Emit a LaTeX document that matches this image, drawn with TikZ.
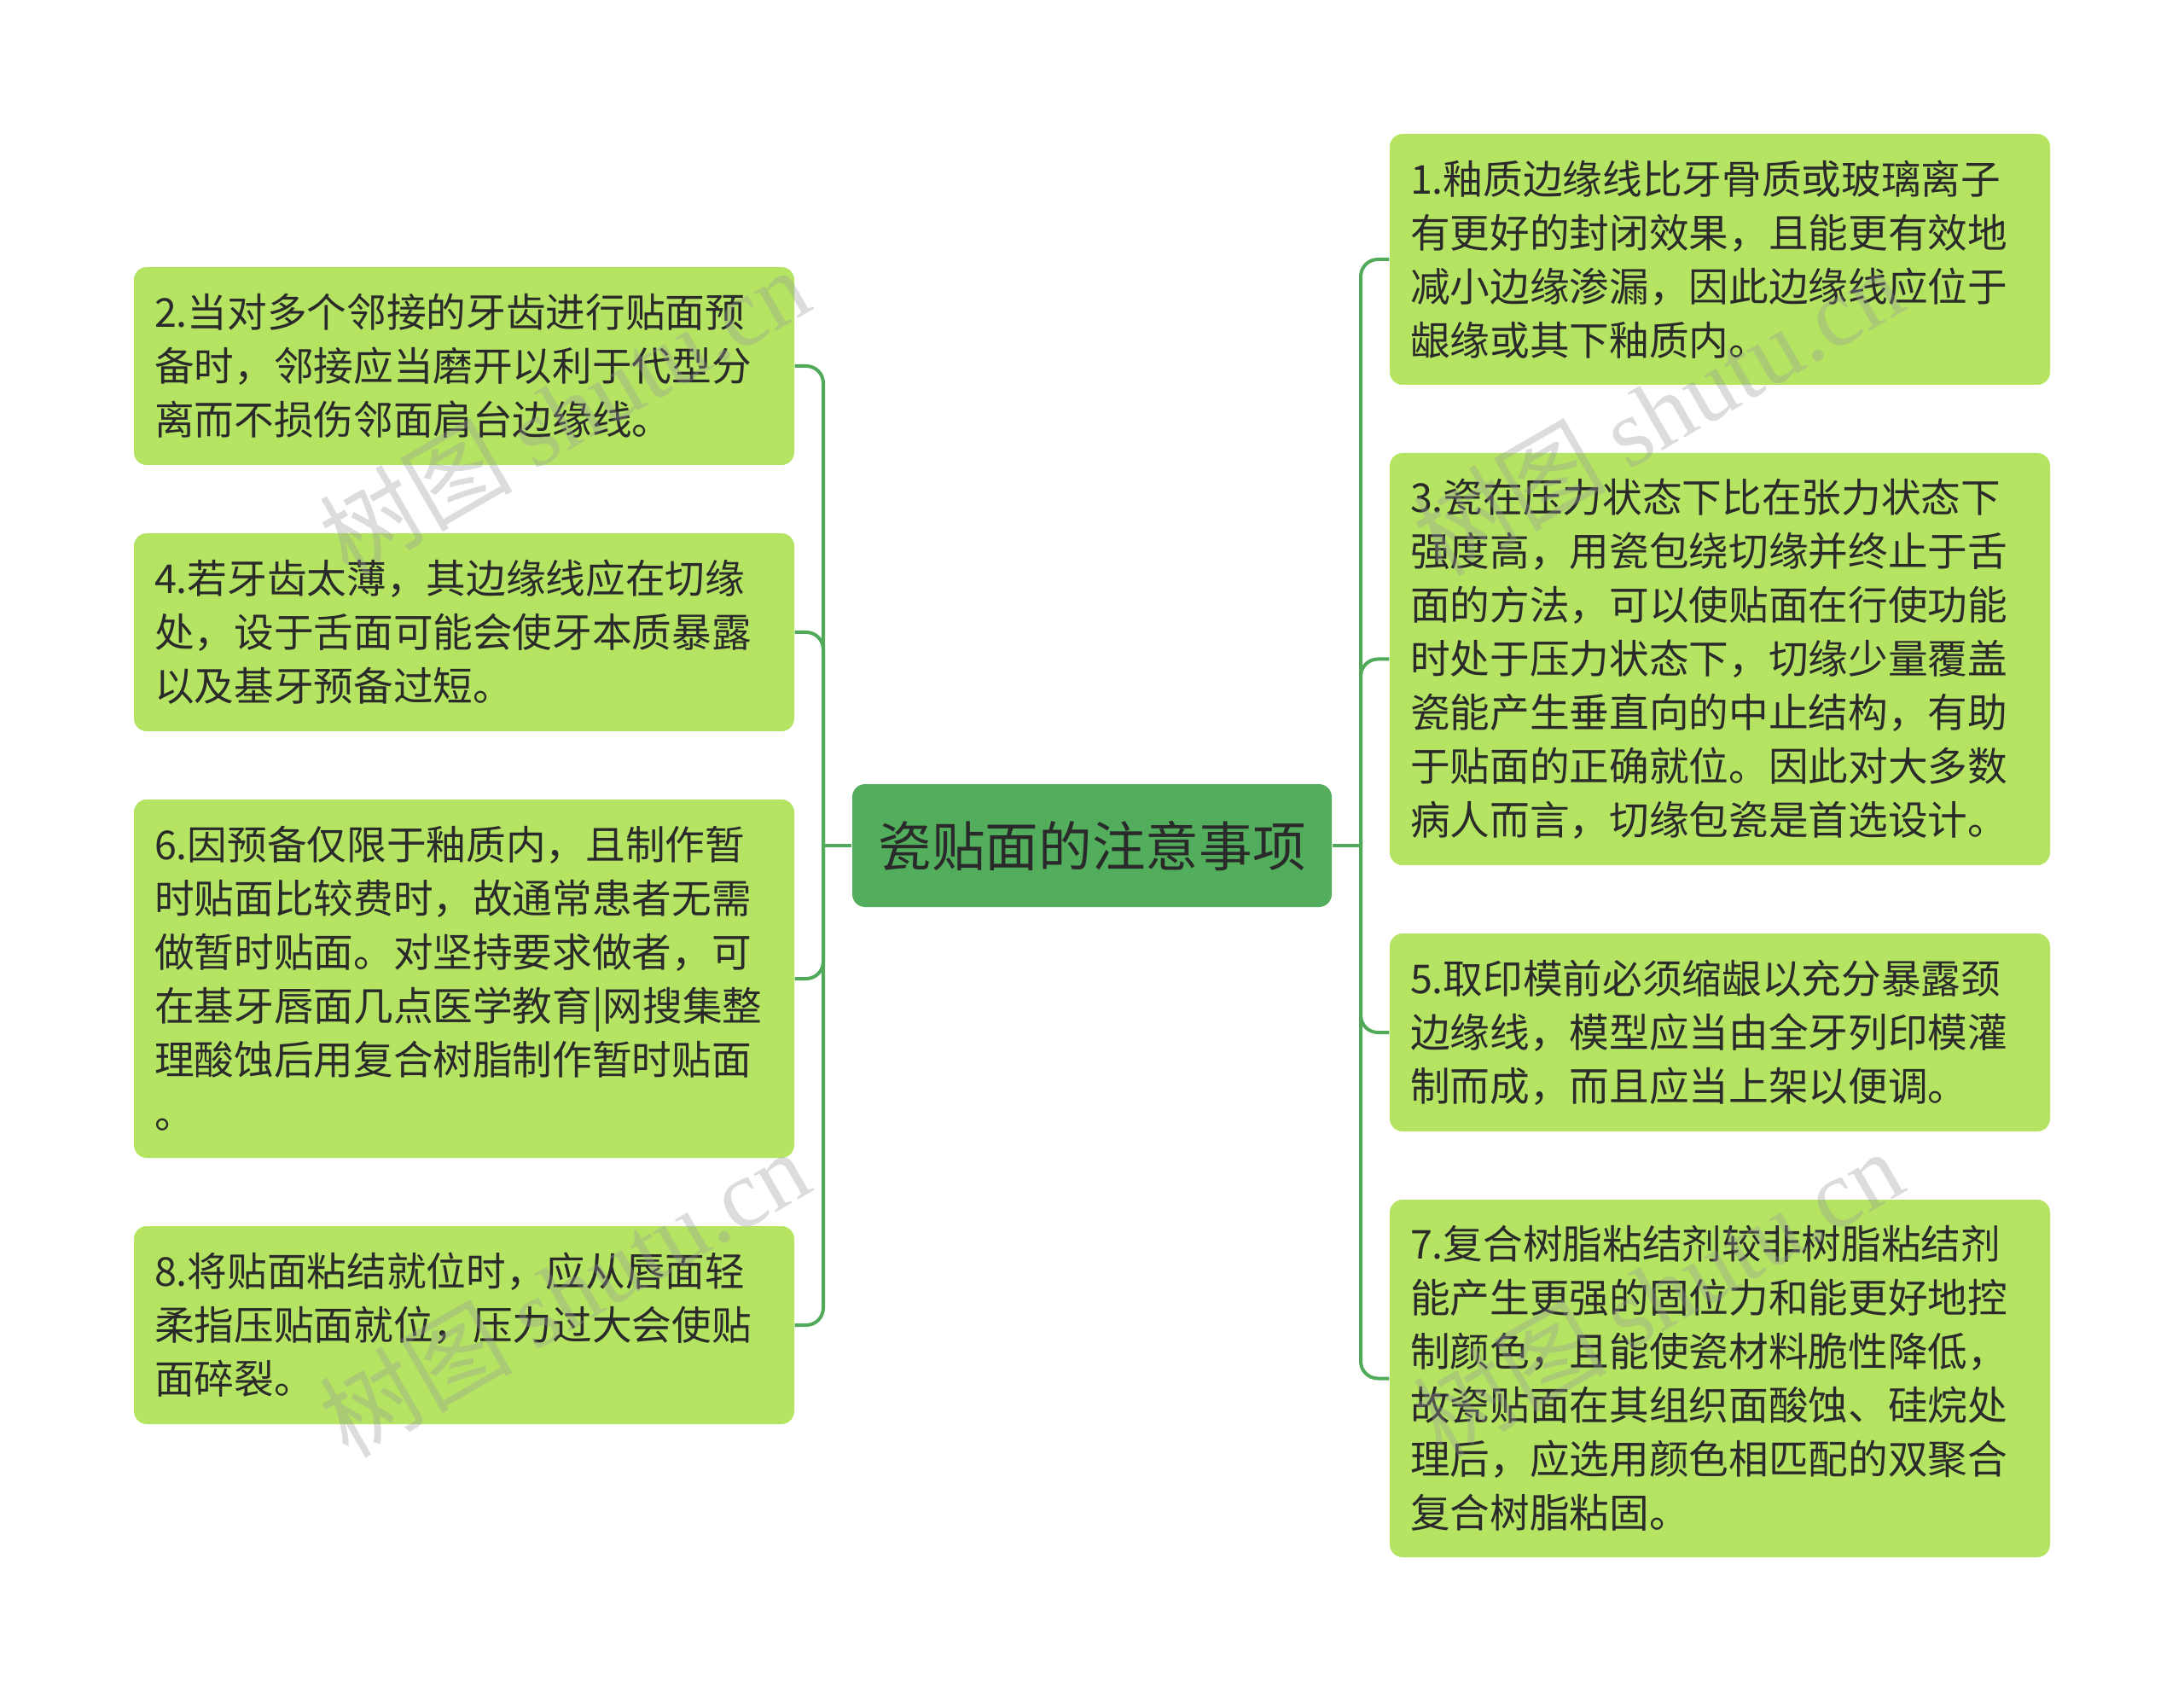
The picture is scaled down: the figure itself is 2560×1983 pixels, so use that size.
\documentclass[tikz,border=0pt]{standalone}
\usepackage{fontspec}
\setmainfont{Noto Sans CJK SC}
\newfontfamily\wmfont{Liberation Serif}
\definecolor{linegreen}{HTML}{50AA5A}
\definecolor{rootfill}{HTML}{52AE5C}
\definecolor{leaffill}{HTML}{B4E462}
\definecolor{txt}{HTML}{2A2A2A}
\definecolor{wmgray}{HTML}{9A9A9A}
\begin{document}
\begin{tikzpicture}[x=0.3pt,y=-0.3pt,
  leaf/.style={fill=leaffill, rounded corners=4.5pt, minimum width=232.2pt,
    text width=217.8pt, inner xsep=7.2pt, inner ysep=0pt, align=left,
    text=txt, font=\fontsize{14pt}{18.9pt}\selectfont},
  rootnode/.style={fill=rootfill, rounded corners=4.5pt, minimum width=168.6pt,
    minimum height=43.2pt, inner sep=0pt, text=txt,
    font=\fontsize{18.8pt}{22pt}\selectfont},
  conn/.style={draw=linegreen, line width=1.2pt},
  branch/.style={conn, rounded corners=6pt},
  wmark/.style={text=wmgray, text opacity=0.35, rotate=30,
    font=\fontsize{34pt}{36pt}\selectfont}
]
\useasboundingbox (0,0) rectangle (2560,1983);

% root
\node[rootnode] (root) at (1280,991) {瓷贴面的注意事项};

% left leaves
\node[leaf, minimum height=69.6pt] (n2) at (544,429)
  {2.当对多个邻接的牙齿进行贴面预\\备时，邻接应当磨开以利于代型分\\离而不损伤邻面肩台边缘线。};
\node[leaf, minimum height=69.6pt] (n4) at (544,741)
  {4.若牙齿太薄，其边缘线应在切缘\\处，设于舌面可能会使牙本质暴露\\以及基牙预备过短。};
\node[leaf, minimum height=126pt] (n6) at (544,1147)
  {6.因预备仅限于釉质内，且制作暂\\时贴面比较费时，故通常患者无需\\做暂时贴面。对坚持要求做者，可\\在基牙唇面几点医学教育|网搜集整\\理酸蚀后用复合树脂制作暂时贴面\\。};
\node[leaf, minimum height=69.6pt] (n8) at (544,1553)
  {8.将贴面粘结就位时，应从唇面轻\\柔指压贴面就位，压力过大会使贴\\面碎裂。};

% right leaves
\node[leaf, minimum height=88.2pt] (n1) at (2016,304)
  {1.釉质边缘线比牙骨质或玻璃离子\\有更好的封闭效果，且能更有效地\\减小边缘渗漏，因此边缘线应位于\\龈缘或其下釉质内。};
\node[leaf, minimum height=144.9pt] (n3) at (2016,772.5)
  {3.瓷在压力状态下比在张力状态下\\强度高，用瓷包绕切缘并终止于舌\\面的方法，可以使贴面在行使功能\\时处于压力状态下，切缘少量覆盖\\瓷能产生垂直向的中止结构，有助\\于贴面的正确就位。因此对大多数\\病人而言，切缘包瓷是首选设计。};
\node[leaf, minimum height=69.6pt] (n5) at (2016,1210)
  {5.取印模前必须缩龈以充分暴露颈\\边缘线，模型应当由全牙列印模灌\\制而成，而且应当上架以便调。};
\node[leaf, minimum height=125.7pt] (n7) at (2016,1615.5)
  {7.复合树脂粘结剂较非树脂粘结剂\\能产生更强的固位力和能更好地控\\制颜色，且能使瓷材料脆性降低，\\故瓷贴面在其组织面酸蚀、硅烷处\\理后，应选用颜色相匹配的双聚合\\复合树脂粘固。};

% junctions
\coordinate (lj) at (965,991);
\coordinate (rj) at (1595,991);
\draw[conn] (root.west) -- (lj);
\draw[conn] (root.east) -- (rj);
\foreach \c in {n2,n4,n6,n8} \draw[branch] (lj) |- (\c.east);
\foreach \c in {n1,n3,n5,n7} \draw[branch] (rj) |- (\c.west);

% watermarks
\node[wmark] (wm1) at (661,482) {树图 {\wmfont shutu.cn}};
\node[wmark] (wm2) at (1943,482) {树图 {\wmfont shutu.cn}};
\node[wmark] (wm3) at (661,1515) {树图 {\wmfont shutu.cn}};
\node[wmark] (wm4) at (1943,1515) {树图 {\wmfont shutu.cn}};
\end{tikzpicture}
\end{document}
